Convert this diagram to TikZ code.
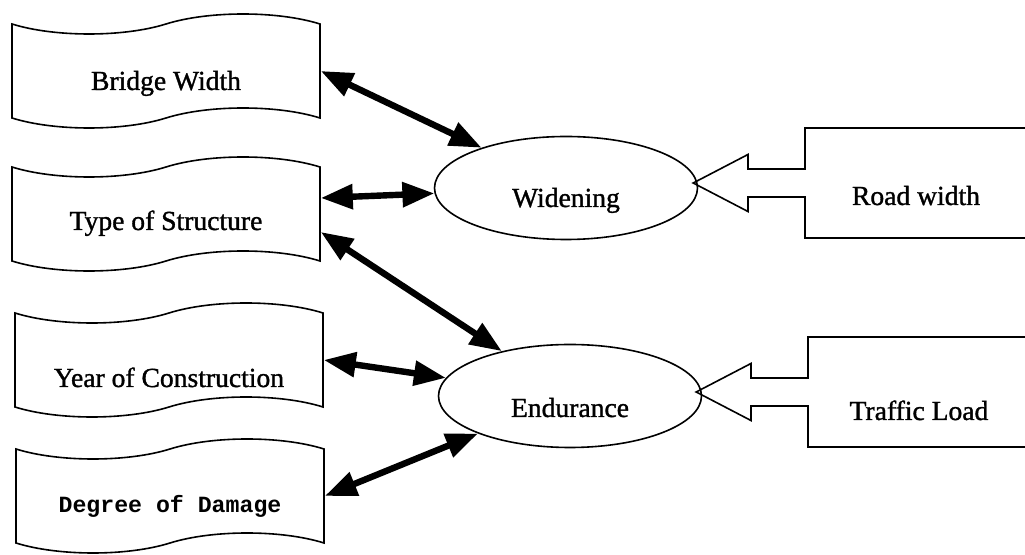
\documentclass[tikz,border=0pt]{standalone}
\usepackage{fontspec}
\setmainfont{Liberation Serif}
\newfontfamily\scanfont[FakeBold=1.2]{Liberation Serif}
\newfontfamily\monofnt{Liberation Mono}
\usetikzlibrary{arrows.meta}
\usetikzlibrary{shapes.symbols}
\usetikzlibrary{shapes.geometric}
\usetikzlibrary{shapes.arrows}
\usetikzlibrary{positioning}
% drop the text below the centre of its shape
\newcommand{\low}[2]{\raisebox{-#1}[0pt][0pt]{#2}}
\tikzstyle{item}=[tape,draw=black,thick,minimum width=154pt,minimum height=57pt,tape bend height=10pt,inner sep=0pt,font=\scanfont\fontsize{13.8}{16}\selectfont]
\tikzstyle{goal}=[ellipse,draw=black,thick,minimum width=131.5pt,minimum height=51.5pt,inner sep=0pt,font=\scanfont\fontsize{13.8}{16}\selectfont]
\tikzstyle{input}=[arrow box,draw=black,thick,minimum width=111pt,minimum height=55pt,arrow box arrows={west:55.5pt},arrow box shaft width=14pt,arrow box head extend=7.25pt,arrow box tip angle=55,inner sep=0pt,font=\scanfont\fontsize{13.8}{16}\selectfont]
\tikzstyle{arr}=[{Triangle[length=16pt,width=12pt]}-{Triangle[length=16pt,width=12pt]},draw=black,line width=3.2pt]

\begin{document}
\begin{tikzpicture}[x=0.5pt,y=-0.5pt]
        \useasboundingbox (0,0) rectangle (1025,555);
        \clip (0,0) rectangle (1025,555);
        \node[item] (bw) at (166,71) {\low{9.5pt}{Bridge Width}};
        \node[item] (ts) at (166,214) {\low{8pt}{Type of Structure}};
        \node[item] (yc) at (169,360) {\low{13.5pt}{Year of Construction}};
        \node[item,font=\monofnt\bfseries\fontsize{11.6}{14}\selectfont] (dd) at (170,496) {\low{8.5pt}{Degree of Damage}};
        \node[goal] (wid) at (566,188) {\low{9.5pt}{Widening}};
        \node[goal] (end) at (570,396) {\low{10.5pt}{Endurance}};
        \node[input] (rw) at (916,183) {\low{11pt}{Road width}};
        \node[input] (tl) at (919,392) {\low{14pt}{Traffic Load}};
        \draw[arr] (bw.east) -- (wid);
        \draw[arr] ([yshift=8pt]ts.east) -- (wid);
        \draw[arr] ([yshift=-9pt]ts.east) -- (end);
        \draw[arr] (yc.east) -- (end);
        \draw[arr] (dd.east) -- (end);
      \end{tikzpicture}
\end{document}
